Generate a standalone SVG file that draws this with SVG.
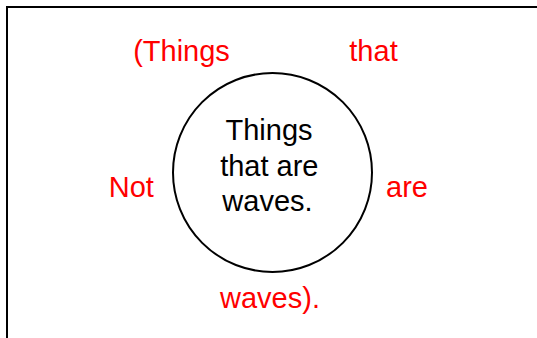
<svg xmlns="http://www.w3.org/2000/svg" width="537" height="338" viewBox="0 0 537 338">
<style>
text{font-family:"Liberation Sans",Arial,sans-serif;font-size:29px;text-anchor:middle}
.r{fill:#ff0000}
.k{fill:#000000}
</style>
<rect x="0" y="0" width="537" height="338" fill="#ffffff"/>
<rect x="7" y="7" width="545" height="345" fill="none" stroke="#000" stroke-width="2"/>
<g id="outer-label">
<text class="r" x="181.5" y="61">(Things</text>
<text class="r" x="373.5" y="61">that</text>
<text class="r" x="131.3" y="197">Not</text>
<text class="r" x="407" y="197">are</text>
<text class="r" x="270" y="308">waves).</text>
</g>
<g id="waves">
<circle cx="272.5" cy="172.5" r="99.5" fill="none" stroke="#000" stroke-width="2"/>
<text class="k" x="269" y="140">Things</text>
<text class="k" x="269.3" y="175.5">that are</text>
<text class="k" x="267.5" y="210.5">waves.</text>
</g>
<g id="connectors"></g>
</svg>
